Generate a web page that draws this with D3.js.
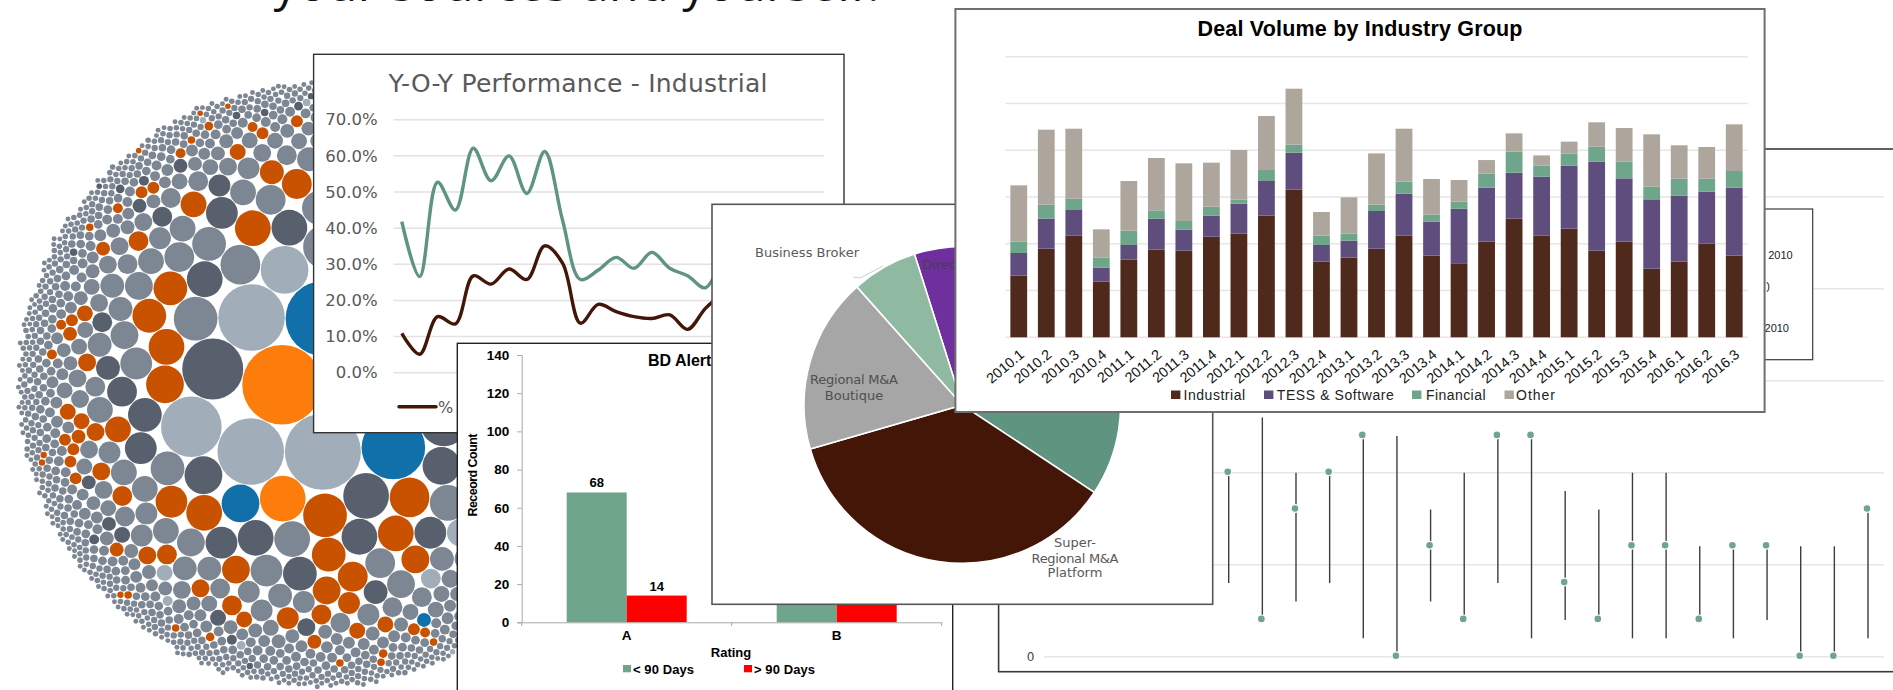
<!DOCTYPE html>
<html><head><meta charset="utf-8">
<script src="https://cdnjs.cloudflare.com/ajax/libs/d3/7.8.5/d3.min.js"></script>
<style>html,body{margin:0;padding:0;background:#fff;overflow:hidden}svg{display:block}text{white-space:pre}</style>
</head><body><svg id="c" width="1893" height="690"></svg>
<script>
// ---- Circle pack: [radius, number of circles] and colour groups by rank in size order
const bubbleTiers=[[40,1],[38.5,1],[38.3,1],[37.5,1],[33.5,2],[32.5,1],[32,1],[30.7,1],[30.5,1],[28.5,1],[24,3],[23,2],[22,4],[20,3],[19,5],[18,14],[17,14],[16,10],[15,10],[14,12],[13,14],[12,18],[11,22],[10,26],[9,32],[8,44],[7,60],[6,76],[5,110],[4.4,130],[3.8,180],[3.2,260],[2.8,300],[2.5,200]];
const bubbleOrange=[0,14];
const bubbleBlue=[3,7,23,286];
const bubbleLight=[1,2,5,9,4,12,83,142,220,386,539,750,990,1250];
const bubbleDark=[8,6,11,15,24,25,29,30,36,39,46,47,56,57,62,63,71,104,109,133,147,159,198,203,236,256,274,292,301,445,480,485,605,612,638,640,669,880,1040,1180,1300,1450];
const bubbleRust=[19,21,27,34,35,38,41,45,48,53,64,68,74,79,81,86,95,100,117,128,136,148,150,157,158,162,168,179,181,190,192,202,207,211,215,233,237,239,247,252,259,264,297,304,308,309,316,317,323,344,359,370,379,406,416,417,426,468,474,506,596,604,621,642,661,673,718,756,783,820,860,905,955,1010,1075,1140,1200,1265,1330,1410,1490];

// ---- Y-O-Y performance, percent per quarter
const yoyGreen=[41.8,26.6,52.7,45,62.1,53.1,60,49.6,61.2,42.2,25.8,28.4,31.9,28.9,33.3,28.9,26.8,23.5,33];
const yoyBrown=[10.9,5.1,15.5,13.5,26.8,24.5,28.7,25.8,35.1,30.3,13.7,18.9,16.9,15.5,15,16,12,17.8,22];
const yoyTicks=[0,10,20,30,40,50,60,70];

// ---- BD alert counts by rating
const ratings=["A","B"];
const under90=[68,110];
const over90=[14,30];
const ratingLabels=[true,false];
const countTicks=[0,20,40,60,80,100,120,140];

// ---- Advisor mix pie
const pieNames=["Direct","Other","Super-Regional M&A Platform","Regional M&A Boutique","Business Broker"];
const pieShares=[10.4,28.8,36.2,17.9,6.7];
const pieColors=["#702f9e","#5f9480","#431607","#a6a6a6","#90b9a2"];

// ---- Deal volume by quarter and industry group
const quarters=["2010.1","2010.2","2010.3","2010.4","2011.1","2011.2","2011.3","2011.4","2012.1","2012.2","2012.3","2012.4","2013.1","2013.2","2013.3","2013.4","2014.1","2014.2","2014.3","2014.4","2015.1","2015.2","2015.3","2015.4","2016.1","2016.2","2016.3"];
const industrial=[131.8,189.6,217.3,119,166,187.4,185.3,215.2,221.6,260.1,315.7,161.8,170.3,189.6,217.3,174.6,158.2,204.5,253.7,217.3,232.3,185.3,204.5,146.8,161.8,200.2,174.6];
const tess=[48.5,64.1,56.3,29.9,31.4,66.3,44.9,44.9,64.1,74.1,79.1,35.6,36.3,80.5,89.8,72.7,116.9,115.4,98.3,126.1,134.7,190.3,135.4,148.2,141.1,111.2,145.4];
const financial=[24.2,29.9,22.8,21.4,30.6,17.8,18.5,19.2,8.6,23.5,17.1,20,15,13.5,25.7,15,15,29.9,44.9,23.5,25.7,32.1,35.6,27.1,36.3,27.8,35.6];
const other=[120.4,160.3,149.6,60.6,106.2,111.9,123.3,94.1,106.2,115.4,119.7,50.6,77.7,109.7,113.3,76.2,46.3,29.2,39.2,22.1,25.7,52,72,111.9,71.3,67.7,99.8];
const dealGroups=["Industrial","TESS & Software","Financial","Other"];
const dealColors=["#4f2a1c","#5f4d7e","#6fa58a","#aea69d"];

// ---- Range chart: low, high and current marker for each row
const rangeLow=[4,2,3,4,1,0,3,2,4,1,2,2,1,1,2,1,2,0,0,1];
const rangeHigh=[10,13,10,10,12,12,8,10,12,12,9,8,10,10,6,6,6,6,6,8];
const rangeDot=[10,2,8,10,12,0,6,2,12,12,4,2,6,6,2,6,6,0,0,8];

const svg=d3.select("#c");
const sans="'Liberation Sans',Arial,sans-serif", verdana="'DejaVu Sans',Verdana,sans-serif";

function panel(x,y,w,h,stroke,sw){
  const g=svg.append("g");
  g.append("rect").attr("x",x).attr("y",y).attr("width",w).attr("height",h).attr("fill","#fff").attr("stroke",stroke).attr("stroke-width",sw);
  return g;
}
function label(g,x,y,txt,o={}){
  const t=g.append("text").attr("x",x).attr("y",y).attr("font-family",o.font||sans).attr("font-size",o.size||12)
    .attr("fill",o.fill||"#000").attr("text-anchor",o.anchor||"start").text(txt);
  if(o.weight)t.attr("font-weight",o.weight);
  if(o.len)t.attr("textLength",o.len).attr("lengthAdjust","spacing");
  return t;
}

// Heading sentence running off the top of the page
label(svg,273.6,1,"your sources and yourself.",{font:"'Open Sans',sans-serif",size:48,fill:"#111",len:606});

// ---- Range chart (furthest back)
{
  const g=panel(998.6,149,1000,522.7,"#3a3a3a",1.6);
  const y=d3.scaleLinear().domain([0,25]).range([656.7,196.7]);
  const x=d3.scalePoint().domain(d3.range(rangeLow.length)).range([1228.7,1868]);
  g.selectAll("line.grid").data(y.ticks(5)).join("line").attr("class","grid")
    .attr("x1",1044).attr("x2",1884).attr("y1",d=>y(d)).attr("y2",d=>y(d)).attr("stroke","#e6e6e6").attr("stroke-width",1.5);
  const ax=g.append("g").attr("transform","translate(1044,0)").call(d3.axisLeft(y).tickValues([0]).tickSize(0));
  ax.select(".domain").remove();
  ax.selectAll("text").attr("x",-9.5).attr("font-family",verdana).attr("font-size",12).attr("fill","#444");
  g.selectAll("line.range").data(d3.range(rangeLow.length)).join("line").attr("class","range")
    .attr("x1",x).attr("x2",x).attr("y1",i=>y(rangeLow[i])).attr("y2",i=>y(rangeHigh[i])).attr("stroke","#3d3d3d").attr("stroke-width",1.4);
  g.selectAll("circle").data(d3.range(rangeDot.length)).join("circle")
    .attr("cx",i=>x(i)-1).attr("cy",i=>y(rangeDot[i])-1).attr("r",3.9).attr("fill","#6fa58a").attr("stroke","#fff").attr("stroke-width",1.2);
  // Legend box, mostly covered by the deal volume panel
  g.append("rect").attr("x",1500).attr("y",209).attr("width",312.7).attr("height",150.7).attr("fill","#fff").attr("stroke","#3a3a3a").attr("stroke-width",1.2);
  label(g,1792.7,259,"2010",{size:11,fill:"#222",anchor:"end"});
  label(g,1770,290,")",{size:11,fill:"#222",anchor:"end"});
  label(g,1789,332,"2010",{size:11,fill:"#222",anchor:"end"});
}

// ---- Circle pack
{
  const fill=new Map();
  [[bubbleLight,"#a2adba"],[bubbleDark,"#57606c"],[bubbleRust,"#c85200"],[bubbleBlue,"#1170aa"],[bubbleOrange,"#fc7d0b"]]
    .forEach(([ids,c])=>ids.forEach(i=>fill.set(i,c)));
  const bubbles=bubbleTiers.flatMap(([r,n])=>d3.range(n).map(()=>({v:r*r})));
  const root=d3.hierarchy({children:bubbles}).sum(d=>d.v||0).sort((a,b)=>b.value-a.value);
  d3.pack().size([614,614]).padding(0.8)(root);
  svg.append("g").attr("transform","translate(13,78)").selectAll("circle").data(root.leaves()).join("circle")
    .attr("cx",d=>d.x).attr("cy",d=>d.y).attr("r",d=>d.r).attr("fill",(d,i)=>fill.get(i)||"#7d8693");
}

// ---- Y-O-Y line chart
{
  const g=panel(313.6,54.3,530.4,378.4,"#333",1.4);
  const y=d3.scaleLinear().domain([0,70]).range([372.7,119.7]);
  const x=d3.scalePoint().domain(d3.range(yoyGreen.length)).range([401.8,723.3]);
  label(g,578,92,"Y-O-Y Performance - Industrial",{font:verdana,size:25,fill:"#595959",anchor:"middle",len:379});
  g.selectAll("line").data(yoyTicks).join("line").attr("x1",393.6).attr("x2",824.3)
    .attr("y1",d=>y(d)).attr("y2",d=>y(d)).attr("stroke","#e2e2e2").attr("stroke-width",1.5);
  const ax=g.append("g").attr("transform","translate(393.6,0)")
    .call(d3.axisLeft(y).tickValues(yoyTicks).tickSize(0).tickFormat(d=>d.toFixed(1)+"%"));
  ax.select(".domain").remove();
  ax.selectAll("text").attr("x",-16).attr("font-family",verdana).attr("font-size",16.5).attr("fill","#595959");
  const line=d3.line().x((d,i)=>x(i)).y(d=>y(d)).curve(d3.curveCatmullRom.alpha(0.5));
  g.append("path").attr("d",line(yoyGreen)).attr("fill","none").attr("stroke","#5f9480").attr("stroke-width",3.4).attr("stroke-linejoin","round");
  g.append("path").attr("d",line(yoyBrown)).attr("fill","none").attr("stroke","#431607").attr("stroke-width",3.4).attr("stroke-linejoin","round");
  g.append("line").attr("x1",399).attr("x2",436).attr("y1",406.7).attr("y2",406.7).attr("stroke","#431607").attr("stroke-width",3.4).attr("stroke-linecap","round");
  label(g,438,413,"%",{font:verdana,size:16,fill:"#595959"});
}

// ---- BD alert bars
{
  const g=panel(457.3,343.3,495.4,420,"#222",1.4);
  const y=d3.scaleLinear().domain([0,140]).range([622.3,355]);
  const x=d3.scaleBand().domain(ratings).range([521.7,941.7]);
  const inner=d3.scaleBand().domain([0,1]).range([0,120]);
  const off=(x.bandwidth()-120)/2;
  label(g,648,366,"BD Alert",{size:16,weight:"bold"});
  [[under90,"#6fa58a"],[over90,"#ff0000"]].forEach(([vals,c],s)=>{
    g.selectAll("rect.s"+s).data(ratings).join("rect").attr("class","s"+s)
      .attr("x",r=>x(r)+off+inner(s)).attr("width",inner.bandwidth())
      .attr("y",(r,i)=>y(vals[i])).attr("height",(r,i)=>y(0)-y(vals[i])).attr("fill",c);
    g.selectAll("text.v"+s).data(ratings.filter((r,i)=>ratingLabels[i])).join("text").attr("class","v"+s)
      .attr("x",r=>x(r)+off+inner(s)+inner.bandwidth()/2).attr("y",r=>y(vals[ratings.indexOf(r)])-5)
      .attr("text-anchor","middle").attr("font-family",sans).attr("font-weight","bold").attr("font-size",13).text(r=>vals[ratings.indexOf(r)]);
  });
  const ay=g.append("g").attr("transform","translate(521.7,0)").call(d3.axisLeft(y).tickValues(countTicks).tickSize(4.5).tickPadding(8));
  ay.selectAll("path,line").attr("stroke","#a8a8a8");
  ay.selectAll("text").attr("font-family",sans).attr("font-weight","bold").attr("font-size",13.5).attr("fill","#000");
  const ax=g.append("g").attr("transform","translate(0,622.3)").call(d3.axisBottom(x).tickSize(0).tickPadding(8));
  ax.selectAll("path").attr("stroke","#a8a8a8");
  ax.selectAll("text").attr("font-family",sans).attr("font-weight","bold").attr("font-size",13.5).attr("fill","#000");
  g.selectAll("line.sep").data([521.7,731.7,941.7]).join("line").attr("class","sep")
    .attr("x1",d=>d).attr("x2",d=>d).attr("y1",622.3).attr("y2",626).attr("stroke","#a8a8a8");
  label(g,731,656.5,"Rating",{size:13,weight:"bold",anchor:"middle"});
  label(g,0,0,"Receord Count",{size:12.5,weight:"bold",anchor:"middle",len:83}).attr("transform","translate(477,475) rotate(-90)");
  g.append("rect").attr("x",623).attr("y",665).attr("width",8).attr("height",7.3).attr("fill","#6fa58a");
  label(g,633,673.5,"< 90 Days",{size:13,weight:"bold",len:61});
  g.append("rect").attr("x",744).attr("y",665).attr("width",8).attr("height",7.3).attr("fill","#ff0000");
  label(g,754,673.5,"> 90 Days",{size:13,weight:"bold",len:61});
}

// ---- Advisor mix pie
{
  const g=panel(712,204.3,500.7,400,"#555",1.6);
  const arcs=d3.pie().sort(null).startAngle(-17.6*Math.PI/180).endAngle((360-17.6)*Math.PI/180)(pieShares);
  const arc=d3.arc().innerRadius(0).outerRadius(158.3);
  g.append("g").attr("transform","translate(962.3,405)").selectAll("path").data(arcs).join("path")
    .attr("d",arc).attr("fill",(d,i)=>pieColors[i]).attr("stroke","#fff").attr("stroke-width",1.6);
  g.append("path").attr("d",d3.line()([[853,277],[860,278],[883,266]])).attr("fill","none").attr("stroke","#cfcfcf").attr("stroke-width",1);
  const o={font:verdana,size:13,fill:"#595959",anchor:"middle"};
  label(g,807,257,"Business Broker",{...o,len:104});
  label(g,854,384,"Regional M&A",{...o,fill:"#4f4f4f",len:88});
  label(g,854,400,"Boutique",{...o,fill:"#4f4f4f"});
  label(g,922.3,269,"Direct",{...o,anchor:"start",fill:"#4a3a5a"});
  label(g,1075,547,"Super-",o);
  label(g,1075,563,"Regional M&A",{...o,len:87});
  label(g,1075,577,"Platform",o);
}

// ---- Deal volume stacked columns (front)
{
  const g=panel(955.4,9,809.2,403,"#6e6e6e",2);
  const y=d3.scaleLinear().domain([0,600]).range([337.3,56.7]);
  const x=d3.scaleBand().domain(quarters).range([1005,1748]).paddingInner(0.39).paddingOuter(0.195);
  label(g,1360,36,"Deal Volume by Industry Group",{size:21.5,weight:"bold",anchor:"middle",len:325});
  g.selectAll("line").data(y.ticks(6)).join("line").attr("x1",1005.3).attr("x2",1747.8)
    .attr("y1",d=>y(d)).attr("y2",d=>y(d)).attr("stroke","#e6e6e6").attr("stroke-width",1.4);
  const rows=quarters.map((q,i)=>({q,Industrial:industrial[i],"TESS & Software":tess[i],Financial:financial[i],Other:other[i]}));
  const layers=d3.stack().keys(dealGroups)(rows);
  g.selectAll("g.layer").data(layers).join("g").attr("class","layer").attr("fill",(d,i)=>dealColors[i])
    .selectAll("rect").data(d=>d).join("rect")
    .attr("x",d=>x(d.data.q)).attr("width",x.bandwidth()).attr("y",d=>y(d[1])).attr("height",d=>y(d[0])-y(d[1]));
  const ax=g.append("g").attr("transform","translate(0,337.3)").call(d3.axisBottom(x).tickSize(0));
  ax.select(".domain").remove();
  ax.selectAll("text").attr("font-family",sans).attr("font-size",14.3).attr("fill","#111").attr("text-anchor","end")
    .attr("x",0).attr("y",0).attr("dy","0.35em").attr("transform","translate(3,15) rotate(-40)");
  const lx=[1171,1264,1412,1504.5], tx=[1183.6,1276.8,1426,1516], tl=[61.5,117,59.5,39];
  dealGroups.forEach((n,i)=>{
    g.append("rect").attr("x",lx[i]).attr("y",390.5).attr("width",9.4).attr("height",8.5).attr("fill",dealColors[i]);
    label(g,tx[i],400,n,{size:14,fill:"#222",len:tl[i]});
  });
}
</script></body></html>
